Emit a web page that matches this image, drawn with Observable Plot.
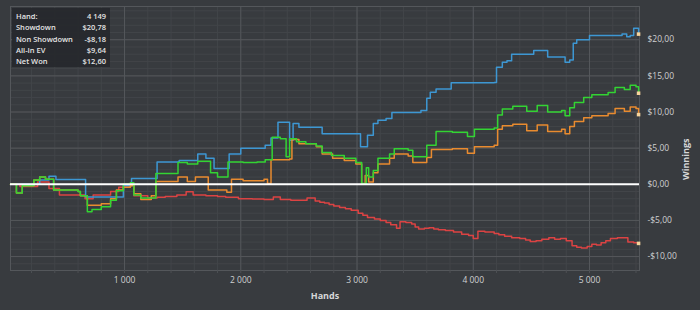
<!DOCTYPE html>
<html><head><meta charset="utf-8">
<script src="https://cdn.jsdelivr.net/npm/d3@7"></script>
<script src="https://cdn.jsdelivr.net/npm/@observablehq/plot@0.6"></script>
<style>
html,body{margin:0;padding:0;background:#383b3f;}
#wrap{position:relative;width:700px;height:310px;font-family:"Open Sans",sans-serif;}
#legend{position:absolute;left:12px;top:8px;width:98px;height:59px;background:rgba(38,40,44,0.92);box-sizing:border-box;padding:3px 4px 0 4px;}
#legend .row{display:flex;justify-content:space-between;font-size:7.5px;font-weight:600;color:#e4e4e4;line-height:11.3px;height:11.3px;}
</style></head><body><div id="wrap"><div id="legend"></div></div>
<script>
// ---- data ----
const showdownHands  = [19, 270, 350, 410, 665, 990, 1060, 1280, 1470, 1630, 1700, 1770, 1900, 2000, 2210, 2260, 2320, 2420, 2450, 2500, 2700, 3030, 3090, 3140, 3180, 3250, 3300, 3550, 3600, 3630, 3680, 3810, 4180, 4200, 4250, 4290, 4330, 4520, 4640, 4790, 4830, 4860, 4890, 5000, 5280, 5320, 5350, 5380, 5422];
const showdownValues = [0, 0.6, 1.1, 0.65, -1.75, -0.2, 0.8, 3.1, 3.3, 4.2, 3.6, 2.2, 4.2, 5.0, 5.4, 6.4, 8.6, 6.1, 8.4, 7.9, 7.0, 5.2, 6.8, 8.4, 8.85, 9.1, 9.95, 10.2, 11.9, 12.75, 13.2, 14.05, 14.1, 16.2, 16.9, 17.1, 18.0, 18.5, 17.6, 16.9, 17.2, 19.5, 20.0, 20.6, 20.8, 20.4, 20.6, 21.6, 20.78];

const nonShowdownHands  = [19, 100, 252, 350, 440, 660, 730, 880, 950, 1050, 1080, 1200, 1280, 1350, 1450, 1530, 1590, 1700, 1800, 1870, 1980, 2100, 2200, 2280, 2340, 2430, 2570, 2640, 2680, 2720, 2760, 2800, 2850, 2900, 2950, 3010, 3050, 3090, 3150, 3200, 3250, 3290, 3340, 3370, 3420, 3470, 3500, 3530, 3580, 3620, 3660, 3700, 3760, 3830, 3900, 3960, 4000, 4040, 4100, 4180, 4220, 4270, 4330, 4400, 4450, 4490, 4540, 4590, 4650, 4700, 4750, 4800, 4850, 4890, 4930, 4980, 5020, 5060, 5100, 5140, 5180, 5240, 5300, 5330, 5380, 5422];
const nonShowdownValues = [0, -0.3, 0.3, -0.6, -1.5, -2.0, -1.5, -1.0, -0.4, 0.0, -1.6, -1.9, -1.8, -1.7, -1.5, -1.05, -1.5, -1.6, -1.7, -1.8, -2.0, -2.05, -2.1, -1.75, -2.1, -2.2, -1.9, -2.3, -2.5, -2.6, -2.8, -3.0, -3.2, -3.4, -3.6, -4.0, -4.3, -4.6, -4.8, -5.0, -5.3, -5.6, -6.1, -5.2, -5.3, -5.5, -5.9, -6.2, -6.1, -6.0, -6.2, -6.3, -6.4, -6.6, -6.9, -7.1, -7.5, -6.5, -6.6, -6.8, -7.0, -7.2, -7.4, -7.5, -7.7, -7.9, -7.8, -7.6, -7.4, -7.6, -7.5, -7.8, -8.5, -8.7, -8.8, -8.6, -8.3, -8.4, -8.1, -7.8, -7.5, -7.4, -7.4, -8.0, -8.1, -8.18];

const allInEvHands  = [19, 70, 120, 220, 270, 320, 390, 600, 620, 680, 800, 880, 930, 990, 1050, 1080, 1140, 1230, 1270, 1460, 1540, 1610, 1720, 1800, 1880, 1920, 2020, 2200, 2230, 2260, 2420, 2440, 2500, 2650, 2700, 2790, 2890, 2990, 3040, 3070, 3100, 3140, 3180, 3280, 3320, 3440, 3480, 3600, 3640, 3820, 3950, 4010, 4180, 4210, 4250, 4340, 4460, 4550, 4640, 4760, 4790, 4830, 4870, 4950, 5020, 5160, 5220, 5300, 5350, 5400, 5422];
const allInEvValues = [0, -1.2, -0.2, 0.6, 1.0, 0.7, -0.8, -1.0, -1.6, -2.9, -2.7, -2.0, -0.8, -0.4, -0.2, -1.3, -2.1, -1.6, 0.4, 1.0, 0.4, 1.0, -0.8, -0.8, -1.1, 0.7, 0.5, 0.7, 0.1, 3.4, 3.5, 6.2, 5.6, 5.2, 4.2, 3.6, 3.3, 2.8, 0.0, 1.2, 0.3, 1.6, 2.8, 3.6, 4.2, 3.9, 3.0, 3.7, 4.8, 4.9, 4.3, 5.2, 5.4, 7.6, 8.1, 8.3, 7.4, 8.2, 7.3, 7.6, 7.0, 8.0, 8.7, 9.2, 9.5, 9.8, 10.5, 10.1, 10.7, 10.5, 9.64];

const netWonHands  = [19, 70, 120, 220, 270, 320, 390, 600, 620, 680, 720, 800, 880, 930, 990, 1050, 1080, 1140, 1270, 1460, 1540, 1630, 1740, 1800, 1890, 2020, 2140, 2210, 2270, 2340, 2390, 2420, 2480, 2560, 2650, 2700, 2780, 2890, 2990, 3040, 3080, 3100, 3140, 3180, 3280, 3320, 3440, 3480, 3600, 3680, 3820, 3950, 4010, 4180, 4210, 4250, 4340, 4460, 4550, 4640, 4760, 4790, 4830, 4870, 4950, 5020, 5160, 5220, 5300, 5350, 5400, 5422];
const netWonValues = [0, -1.2, -0.2, 0.6, 1.0, 0.7, -0.8, -1.0, -1.6, -3.8, -3.5, -3.1, -2.2, -0.9, 0.0, 0.2, -1.5, -1.9, 1.5, 3.0, 2.8, 3.2, 1.6, 1.0, 3.1, 3.0, 3.1, 3.4, 6.5, 6.3, 3.8, 6.3, 5.9, 5.6, 5.3, 4.4, 4.0, 3.6, 3.0, 0.1, 2.3, 1.0, 1.9, 3.6, 4.2, 4.9, 4.7, 3.8, 5.4, 7.3, 7.2, 6.6, 7.6, 7.8, 9.6, 10.4, 10.8, 10.1, 10.9, 10.0, 10.2, 9.5, 10.6, 11.3, 12.0, 12.4, 12.7, 13.4, 13.1, 13.7, 13.5, 12.6];

const legendLabels = ["Hand:", "Showdown", "Non Showdown", "All-In EV", "Net Won"];
const legendValues = ["4 149", "$20,78", "-$8,18", "$9,64", "$12,60"];

const xTickValues = [1000, 2000, 3000, 4000, 5000];
const yTickValues = [-10, -5, 0, 5, 10, 15, 20];

// ---- build ----
const series = [
  {name: "Non Showdown", hands: nonShowdownHands, values: nonShowdownValues, color: "#dc4343"},
  {name: "Showdown", hands: showdownHands, values: showdownValues, color: "#3d97d3"},
  {name: "All-In EV", hands: allInEvHands, values: allInEvValues, color: "#e98b2f"},
  {name: "Net Won", hands: netWonHands, values: netWonValues, color: "#33d433"}
];
const rows = series.map(s => s.hands.map((h, i) => ({name: s.name, hand: h, value: s.values[i], color: s.color})));
const ends = rows.map(r => r[r.length - 1]);

const fmtHands = v => d3.format(",")(v).replace(/,/g, " ");
const fmtMoney = v => (v < 0 ? "-" : "") + "$" + Math.abs(v).toFixed(2).replace(".", ",");

const minorX = d3.range(200, 5430, 200);
const minorY = d3.range(-11, 25, 1);

const chart = Plot.plot({
  width: 700, height: 310,
  marginLeft: 10, marginRight: 61, marginTop: 6, marginBottom: 40,
  style: {background: "#383b3f", color: "#cfd0d1", fontFamily: "'Open Sans', sans-serif", fontSize: "8.5px"},
  x: {domain: [19, 5430]},
  y: {domain: [-11.93, 24.6]},
  marks: [
    Plot.ruleY(minorY, {stroke: "#424549", strokeWidth: 1}),
    Plot.ruleX(minorX, {stroke: "#424549", strokeWidth: 1}),
    Plot.ruleY(yTickValues, {stroke: "#54575b", strokeWidth: 1}),
    Plot.ruleX(xTickValues, {stroke: "#54575b", strokeWidth: 1}),
    Plot.frame({stroke: "#54575b"}),
    Plot.axisX(minorX, {tickSize: 3, tickPadding: 3, stroke: "#4d5054", fill: "#cfd0d1", tickFormat: d => d % 1000 === 0 ? fmtHands(d) : "", label: null}),
    Plot.axisY(yTickValues, {anchor: "right", tickSize: 0, tickPadding: 8, fill: "#cfd0d1", tickFormat: fmtMoney, label: null}),
    ...rows.map(r => Plot.line(r, {x: "hand", y: "value", stroke: r[0].color, strokeWidth: 1.5, curve: "step-after"})),
    Plot.ruleY([0], {stroke: "#ffffff", strokeWidth: 2}),
    Plot.dot(ends, {x: "hand", y: "value", symbol: "square", r: 2, fill: "#f7d49c", stroke: null}),
    Plot.text(["Hands"], {frameAnchor: "bottom", dy: 28, fontWeight: "bold", fontSize: 9, fill: "#d6d7d8"}),
    Plot.text(["Winnings"], {frameAnchor: "right", dx: 47, rotate: -90, fontWeight: "bold", fontSize: 9, fill: "#d6d7d8"})
  ]
});
const wrap = document.getElementById("wrap");
wrap.insertBefore(chart, wrap.firstChild);
chart.style.display = "block";

const legend = document.getElementById("legend");
legendLabels.forEach((l, i) => {
  const row = document.createElement("div");
  row.className = "row";
  const a = document.createElement("span"); a.textContent = l;
  const b = document.createElement("span"); b.textContent = legendValues[i];
  row.appendChild(a); row.appendChild(b);
  legend.appendChild(row);
});
</script>
</body></html>
